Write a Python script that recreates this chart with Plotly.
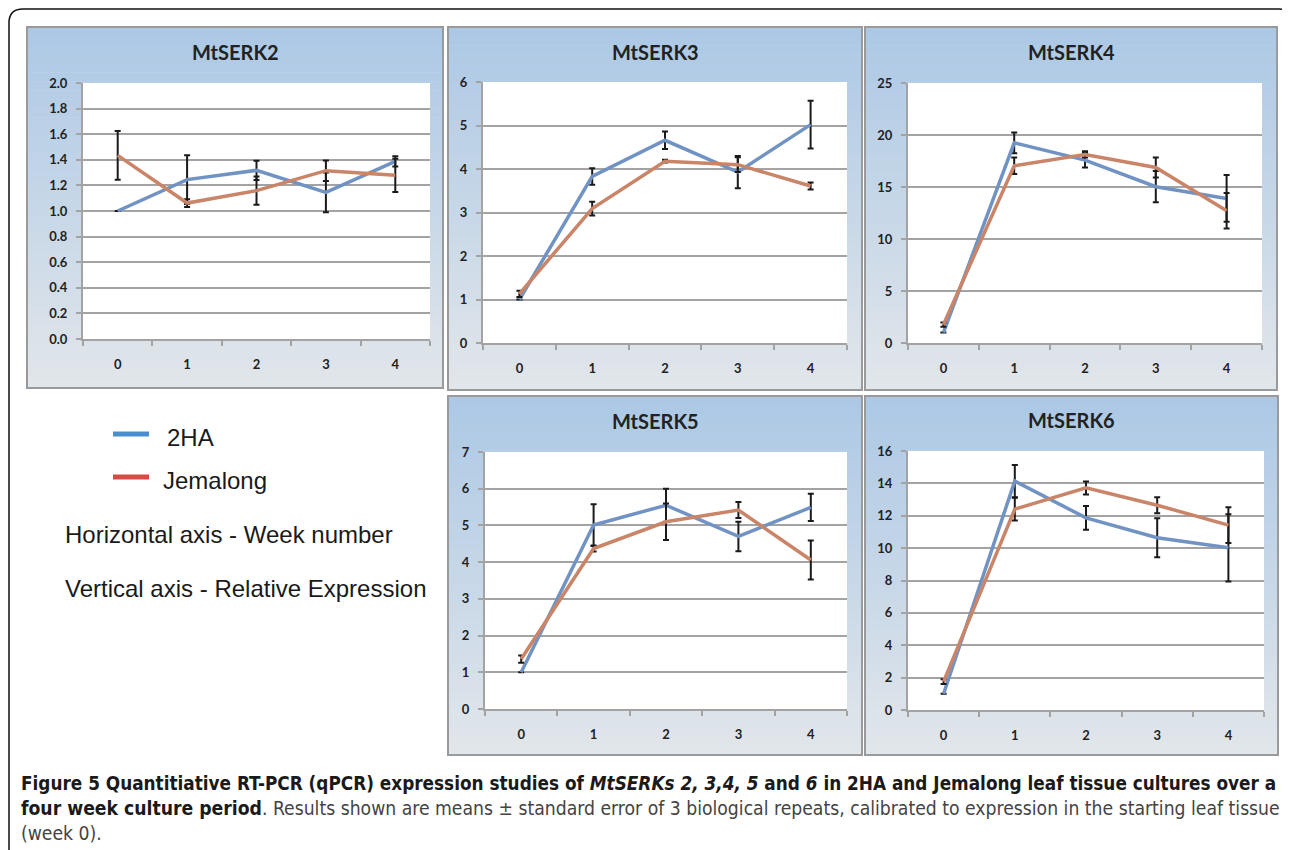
import plotly.graph_objects as go

# page offset of the figure inside the browser (body margin)
OFF = 8
W, H = 1290 - OFF, 850 - OFF

weeks = ["0", "1", "2", "3", "4"]
panel_titles = ["MtSERK2", "MtSERK3", "MtSERK4", "MtSERK5", "MtSERK6"]

# 2HA series (mean, standard error)
serk2_2ha = [1.0, 1.245, 1.318, 1.146, 1.388]
serk2_2ha_se = [0.0, 0.19, 0.075, 0.155, 0.04]
serk3_2ha = [1.0, 3.83, 4.66, 3.93, 5.02]
serk3_2ha_se = [0.0, 0.19, 0.2, 0.37, 0.55]
serk4_2ha = [1.0, 19.25, 17.58, 15.03, 13.9]
serk4_2ha_se = [0.0, 1.0, 0.7, 1.5, 2.25]
serk5_2ha = [1.0, 5.01, 5.55, 4.70, 5.49]
serk5_2ha_se = [0.0, 0.57, 0.45, 0.4, 0.37]
serk6_2ha = [1.0, 14.14, 11.87, 10.64, 10.02]
serk6_2ha_se = [0.0, 1.0, 0.74, 1.2, 2.08]

# Jemalong series (mean, standard error)
serk2_jem = [1.435, 1.062, 1.159, 1.315, 1.279]
serk2_jem_se = [0.19, 0.03, 0.11, 0.08, 0.13]
serk3_jem = [1.13, 3.09, 4.18, 4.10, 3.61]
serk3_jem_se = [0.07, 0.16, 0.03, 0.17, 0.08]
serk4_jem = [1.76, 17.04, 18.13, 16.88, 12.72]
serk4_jem_se = [0.2, 0.8, 0.3, 0.96, 1.7]
serk5_jem = [1.36, 4.37, 5.10, 5.42, 4.06]
serk5_jem_se = [0.1, 0.08, 0.5, 0.22, 0.53]
serk6_jem = [1.75, 12.41, 13.72, 12.65, 11.42]
serk6_jem_se = [0.15, 0.7, 0.4, 0.5, 1.1]

y_max = [2.0, 6, 25, 7, 16]
y_dtick = [0.2, 1, 5, 1, 2]
y_format = [".1f", "d", "d", "d", "d"]

series_2ha = [serk2_2ha, serk3_2ha, serk4_2ha, serk5_2ha, serk6_2ha]
series_2ha_se = [serk2_2ha_se, serk3_2ha_se, serk4_2ha_se, serk5_2ha_se, serk6_2ha_se]
series_jem = [serk2_jem, serk3_jem, serk4_jem, serk5_jem, serk6_jem]
series_jem_se = [serk2_jem_se, serk3_jem_se, serk4_jem_se, serk5_jem_se, serk6_jem_se]

# layout geometry in screen pixels: panel box and plot area (x0,y0,x1,y1)
panels = [(27, 27, 443, 388), (448, 27, 862, 390), (865, 27, 1277, 390),
          (448, 396, 862, 755), (865, 396, 1278, 755)]
plots = [(83, 83, 430, 339), (483, 82, 847, 343), (908, 83, 1262, 343),
         (485, 452, 847, 709), (908, 451, 1264, 710)]
title_y = [52, 52, 52, 421, 420]

C_2HA = "#7093C3"
C_JEM = "#CA8468"
GRID = "#a3a3a3"
TICK_FONT = dict(family="Lato", size=13, color="#222222", weight="bold")


def px(x):
    return (x - OFF) / W


def py(y):
    return 1 - (y - OFF) / H


fig = go.Figure()
layout = dict(template="none", width=W, height=H, autosize=False,
              margin=dict(l=0, r=0, t=0, b=0, pad=0),
              paper_bgcolor="white", plot_bgcolor="white", showlegend=False)

shapes = []
annotations = []


def lerp(c1, c2, t):
    return "rgb(%d,%d,%d)" % tuple(round(a + (b - a) * t) for a, b in zip(c1, c2))


top_c = (172, 200, 229)
bot_c = (226, 230, 234)
NB = 40
for i, (bx0, by0, bx1, by1) in enumerate(panels):
    for k in range(NB):
        y0 = by0 + (by1 - by0) * k / NB
        y1 = by0 + (by1 - by0) * (k + 1) / NB + 0.6
        shapes.append(dict(type="rect", xref="paper", yref="paper", layer="below",
                           x0=px(bx0), x1=px(bx1), y0=py(y0), y1=py(min(y1, by1)),
                           line=dict(width=0), fillcolor=lerp(top_c, bot_c, (k + 0.5) / NB)))
    shapes.append(dict(type="rect", xref="paper", yref="paper", layer="below",
                       x0=px(bx0), x1=px(bx1), y0=py(by0), y1=py(by1),
                       line=dict(color="#9a9a9a", width=2), fillcolor="rgba(0,0,0,0)"))
    ax0, ay0, ax1, ay1 = plots[i]
    shapes.append(dict(type="rect", xref="paper", yref="paper", layer="below",
                       x0=px(ax0), x1=px(ax1), y0=py(ay0), y1=py(ay1),
                       line=dict(width=0), fillcolor="white"))

for i in range(5):
    n = "" if i == 0 else str(i + 1)
    ax0, ay0, ax1, ay1 = plots[i]
    layout["xaxis" + n] = dict(domain=[px(ax0), px(ax1)], anchor="y" + n,
                               type="category", range=[-0.5, 4.5], tickson="boundaries",
                               ticks="outside", ticklen=5, tickwidth=2, tickcolor=GRID,
                               showline=True, linecolor=GRID, linewidth=2, showgrid=False,
                               ticklabelstandoff=12, zeroline=False, automargin=False,
                               tickfont=TICK_FONT)
    layout["yaxis" + n] = dict(domain=[py(ay1), py(ay0)], anchor="x" + n,
                               range=[0, y_max[i]], dtick=y_dtick[i], tick0=0,
                               tickformat=y_format[i], ticks="outside", ticklen=5,
                               tickwidth=2, tickcolor=GRID, showline=True, linecolor=GRID,
                               linewidth=2, showgrid=True, gridcolor=GRID, gridwidth=2,
                               zeroline=False, ticklabelstandoff=6, automargin=False,
                               tickfont=TICK_FONT)
    fig.add_trace(go.Scatter(x=weeks, y=series_2ha[i], mode="lines", name="2HA",
                             line=dict(color=C_2HA, width=3.5),
                             error_y=dict(type="data", array=series_2ha_se[i], visible=True,
                                          color="#1a1a1a", thickness=2, width=3),
                             xaxis="x" + n, yaxis="y" + n, cliponaxis=False))
    fig.add_trace(go.Scatter(x=weeks, y=series_jem[i], mode="lines", name="Jemalong",
                             line=dict(color=C_JEM, width=3.5),
                             error_y=dict(type="data", array=series_jem_se[i], visible=True,
                                          color="#1a1a1a", thickness=2, width=3),
                             xaxis="x" + n, yaxis="y" + n, cliponaxis=False))
    bx0, by0, bx1, by1 = panels[i]
    annotations.append(dict(text="<b>%s</b>" % panel_titles[i], xref="paper", yref="paper",
                            x=px((bx0 + bx1) / 2), y=py(title_y[i]), showarrow=False,
                            xanchor="center", yanchor="middle",
                            font=dict(family="Lato", size=20, color="#222")))

# outer rounded frame
fx0, fy0, fx1, fy1 = 9, 9, 1289, 860
r = 14
path = ("M %f %f L %f %f Q %f %f %f %f L %f %f Q %f %f %f %f L %f %f" % (
    px(fx0), py(fy1), px(fx0), py(fy0 + r), px(fx0), py(fy0), px(fx0 + r), py(fy0),
    px(fx1 - 10), py(fy0), px(fx1), py(fy0), px(fx1), py(fy0 + 10), px(fx1), py(fy1)))
shapes.append(dict(type="path", xref="paper", yref="paper", path=path,
                   line=dict(color="#111", width=1.5)))

# legend
LEG_FONT = dict(family="Liberation Sans, Arial", size=24, color="#1a1a1a")
legend_items = [("2HA", "#4A8ED0", 434, 165), ("Jemalong", "#D64B44", 477, 161)]
for label, col, ly, tx in legend_items:
    shapes.append(dict(type="line", xref="paper", yref="paper", x0=px(113), x1=px(149),
                       y0=py(ly), y1=py(ly), line=dict(color=col, width=5)))
    annotations.append(dict(text=label, xref="paper", yref="paper", x=px(tx), y=py(ly + 3),
                            showarrow=False, xanchor="left", yanchor="middle", font=LEG_FONT))
for txt, ty in [("Horizontal axis - Week number", 534), ("Vertical axis - Relative Expression", 588)]:
    annotations.append(dict(text=txt, xref="paper", yref="paper", x=px(63), y=py(ty),
                            showarrow=False, xanchor="left", yanchor="middle", font=LEG_FONT))

# caption
cap_font = "DejaVu Sans Condensed, Liberation Sans Narrow, Roboto Condensed, DejaVu Sans"
cap_lines = [
    ("<b>Figure 5 Quantitiative RT-PCR (qPCR) expression studies of <i>MtSERKs 2, 3,4, 5</i> and <i>6</i> "
     "in 2HA and Jemalong leaf tissue cultures over a</b>", 783, 18.8),
    ("<b>four week culture period</b><span style='color:#444'>. Results shown are means ± standard error "
     "of 3 biological repeats, calibrated to expression in the starting leaf tissue</span>", 808, 19.2),
    ("<span style='color:#444'>(week 0).</span>", 833, 19.2),
]
for txt, ty, fs in cap_lines:
    annotations.append(dict(text=txt, xref="paper", yref="paper", x=px(19), y=py(ty),
                            showarrow=False, xanchor="left", yanchor="middle",
                            font=dict(family=cap_font, size=fs, color="#1a1a1a")))

layout["shapes"] = shapes
layout["annotations"] = annotations
fig.update_layout(**layout)
fig.write_html("out.html")
